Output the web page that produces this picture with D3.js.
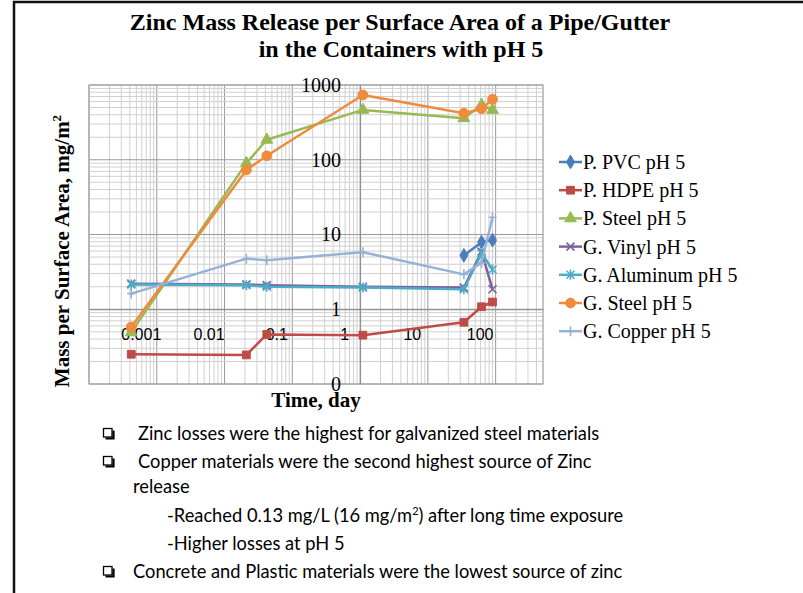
<!DOCTYPE html>
<html>
<head>
<meta charset="utf-8">
<script src="https://cdn.jsdelivr.net/npm/d3@7"></script>
<style>
  body { margin: 0; background: #fff; }
  svg { display: block; }
</style>
</head>
<body>
<script>
// time of each sample, days
var times = [0.00042, 0.021, 0.042, 1.1, 34, 62, 90];

var seriesNames = ['P. PVC pH 5', 'P. HDPE pH 5', 'P. Steel pH 5', 'G. Vinyl pH 5',
                   'G. Aluminum pH 5', 'G. Steel pH 5', 'G. Copper pH 5'];

// zinc mass released, mg/m2 (null = no sample)
var pPvc      = [null, null, null, null, 5.25, 7.9, 8.4];
var pHdpe     = [0.25, 0.245, 0.46, 0.45, 0.67, 1.08, 1.25];
var pSteel    = [0.49, 90, 185, 464, 359, 541, 464];
var gVinyl    = [2.2, 2.15, 2.1, 2.0, 1.95, 5.9, 1.85];
var gAluminum = [2.15, 2.1, 2.0, 1.95, 1.85, 5.6, 3.4];
var gSteel    = [0.58, 73, 113, 736, 419, 479, 644];
var gCopper   = [1.62, 4.75, 4.54, 5.8, 2.93, 4.2, 17];

var xTickValues = [0.001, 0.01, 0.1, 1, 10, 100];
var yTickValues = [0.1, 1, 10, 100, 1000];

var colors  = ['#4a7ebb', '#be4b48', '#98b954', '#7d60a0', '#4bacc6', '#f08a3c', '#95b3d7'];
var markers = ['diamond', 'square', 'triangle', 'x', 'star', 'circle', 'plus'];

var series = [pPvc, pHdpe, pSteel, gVinyl, gAluminum, gSteel, gCopper].map(function(vals, i) {
    return {
        name: seriesNames[i],
        color: colors[i],
        marker: markers[i],
        points: vals.map(function(v, j) { return { t: times[j], v: v }; })
    };
});

var W = 803, H = 593;
var svg = d3.select('body').append('svg').attr('width', W).attr('height', H);

var x = d3.scaleLog().domain([0.0001, 500]).range([89, 543]);
var y = d3.scaleLog().domain([0.1, 1000]).range([384, 85]);

var serif = '"Liberation Serif", "Times New Roman", serif';

function isDecade(d) {
    return Math.abs(Math.log10(d) - Math.round(Math.log10(d))) < 1e-9;
}

// slide frame
svg.append('path')
    .attr('d', 'M14,' + H + 'V2H' + W)
    .attr('fill', 'none')
    .attr('stroke', '#111')
    .attr('stroke-width', 2.5);

// title
var title = svg.append('text')
    .attr('text-anchor', 'middle')
    .attr('font-family', serif)
    .attr('font-weight', 'bold')
    .attr('font-size', 24);
title.append('tspan').attr('x', 400).attr('y', 30).text('Zinc Mass Release per Surface Area of a Pipe/Gutter');
title.append('tspan').attr('x', 401).attr('y', 57).text('in the Containers with pH 5');

// grid
var grid = svg.append('g');
grid.selectAll('line.gx')
    .data(x.ticks())
    .enter().append('line')
    .attr('x1', function(d) { return x(d); })
    .attr('x2', function(d) { return x(d); })
    .attr('y1', y.range()[0])
    .attr('y2', y.range()[1])
    .attr('stroke', function(d) { return isDecade(d) ? '#9a9a9a' : '#d0d0d0'; })
    .attr('stroke-width', 1);
grid.selectAll('line.gy')
    .data(y.ticks())
    .enter().append('line')
    .attr('y1', function(d) { return y(d); })
    .attr('y2', function(d) { return y(d); })
    .attr('x1', x.range()[0])
    .attr('x2', x.range()[1])
    .attr('stroke', function(d) { return isDecade(d) ? '#9a9a9a' : '#d0d0d0'; })
    .attr('stroke-width', 1);
grid.append('rect')
    .attr('x', x.range()[0])
    .attr('y', y.range()[1])
    .attr('width', x.range()[1] - x.range()[0])
    .attr('height', y.range()[0] - y.range()[1])
    .attr('fill', 'none')
    .attr('stroke', '#a0a0a0');

// axes cross at 1
var xAxis = svg.append('g')
    .attr('transform', 'translate(0,' + y(1) + ')')
    .call(d3.axisBottom(x).tickValues(xTickValues).tickSize(0).tickPadding(19)
        .tickFormat(function(d) { return String(d); }));
xAxis.select('.domain').attr('stroke', '#8a8a8a');
xAxis.selectAll('text')
    .attr('dx', -16)
    .attr('fill', '#000')
    .attr('font-family', '"Liberation Sans", Arial, sans-serif')
    .attr('font-size', 16);

var yAxis = svg.append('g')
    .attr('transform', 'translate(' + x(1) + ',0)')
    .call(d3.axisLeft(y).tickValues(yTickValues).tickSize(0).tickPadding(19)
        .tickFormat(d3.format('d')));
yAxis.select('.domain').attr('stroke', '#8a8a8a');
yAxis.selectAll('text')
    .attr('fill', '#000')
    .attr('font-family', serif)
    .attr('font-size', 20);

// axis titles
svg.append('text')
    .attr('x', 316).attr('y', 407)
    .attr('text-anchor', 'middle')
    .attr('font-family', serif)
    .attr('font-weight', 'bold')
    .attr('font-size', 21)
    .text('Time, day');

var yTitle = svg.append('text')
    .attr('transform', 'translate(69,251) rotate(-90)')
    .attr('text-anchor', 'middle')
    .attr('font-family', serif)
    .attr('font-weight', 'bold')
    .attr('font-size', 21);
yTitle.append('tspan').text('Mass per Surface Area, mg/m');
yTitle.append('tspan').attr('dy', -8).attr('font-size', 13).text('2');

// markers
function markerPath(type) {
    switch (type) {
        case 'diamond':  return d3.symbol(d3.symbolDiamond, 55)();
        case 'square':   return d3.symbol(d3.symbolSquare, 60)();
        case 'triangle': return d3.symbol(d3.symbolTriangle, 60)();
        case 'circle':   return d3.symbol(d3.symbolCircle, 75)();
        case 'x':        return 'M-4,-4L4,4M-4,4L4,-4';
        case 'star':     return 'M-4,-4L4,4M-4,4L4,-4M0,-5L0,5';
        case 'plus':     return 'M-4,0L4,0M0,-5L0,5';
    }
}
function isOpenMarker(type) {
    return type === 'x' || type === 'star' || type === 'plus';
}

var line = d3.line()
    .defined(function(d) { return d.v != null; })
    .x(function(d) { return x(d.t); })
    .y(function(d) { return y(d.v); });

var plot = svg.append('g');
series.forEach(function(s) {
    var g = plot.append('g');
    g.append('path')
        .datum(s.points)
        .attr('d', line)
        .attr('fill', 'none')
        .attr('stroke', s.color)
        .attr('stroke-width', 2.5)
        .attr('stroke-linejoin', 'round');
    g.selectAll('path.m')
        .data(s.points.filter(function(d) { return d.v != null; }))
        .enter().append('path')
        .attr('transform', function(d) { return 'translate(' + x(d.t) + ',' + y(d.v) + ')'; })
        .attr('d', markerPath(s.marker))
        .attr('fill', isOpenMarker(s.marker) ? 'none' : s.color)
        .attr('stroke', s.color)
        .attr('stroke-width', isOpenMarker(s.marker) ? 1.6 : 1);
});

// legend
var legend = svg.append('g').attr('transform', 'translate(559,162)');
var item = legend.selectAll('g')
    .data(series)
    .enter().append('g')
    .attr('transform', function(d, i) { return 'translate(0,' + (i * 28.2) + ')'; });
item.append('line')
    .attr('x1', 0).attr('x2', 23)
    .attr('stroke', function(d) { return d.color; })
    .attr('stroke-width', 2.5);
item.append('path')
    .attr('transform', 'translate(11.5,0)')
    .attr('d', function(d) { return markerPath(d.marker); })
    .attr('fill', function(d) { return isOpenMarker(d.marker) ? 'none' : d.color; })
    .attr('stroke', function(d) { return d.color; })
    .attr('stroke-width', function(d) { return isOpenMarker(d.marker) ? 1.6 : 1; });
item.append('text')
    .attr('x', 24).attr('dy', '0.35em')
    .attr('font-family', serif)
    .attr('font-size', 20)
    .text(function(d) { return d.name; });

// slide notes
var noteFont = 'Lato, Carlito, Calibri, sans-serif';
// shadowed square bullet
function bullet(by) {
    var b = svg.append('g').attr('transform', 'translate(103,' + (by - 12) + ')');
    b.append('path')
        .attr('d', 'M2.5,10.5H10.5V2.5')
        .attr('fill', 'none')
        .attr('stroke', '#000')
        .attr('stroke-width', 2.2);
    b.append('rect')
        .attr('x', 0.5).attr('y', 0.5)
        .attr('width', 8.5).attr('height', 8.5)
        .attr('fill', '#fff')
        .attr('stroke', '#000')
        .attr('stroke-width', 1.3);
}
function note(tx, ty) {
    return svg.append('text')
        .attr('x', tx).attr('y', ty)
        .attr('font-family', noteFont)
        .attr('font-size', 18.3);
}
bullet(440);
note(138, 440).text('Zinc losses were the highest for galvanized steel materials');
bullet(468);
note(138, 468).text('Copper materials were the second highest source of Zinc');
note(133, 493).text('release');
var reached = note(167, 522);
reached.append('tspan').text('-Reached 0.13 mg/L (16 mg/m');
reached.append('tspan').attr('dy', -7).attr('font-size', 11).text('2');
reached.append('tspan').attr('dy', 7).text(') after long time exposure');
note(167, 550).text('-Higher losses at pH 5');
bullet(578);
note(133, 578).text('Concrete and Plastic materials were the lowest source of zinc');
</script>
</body>
</html>
